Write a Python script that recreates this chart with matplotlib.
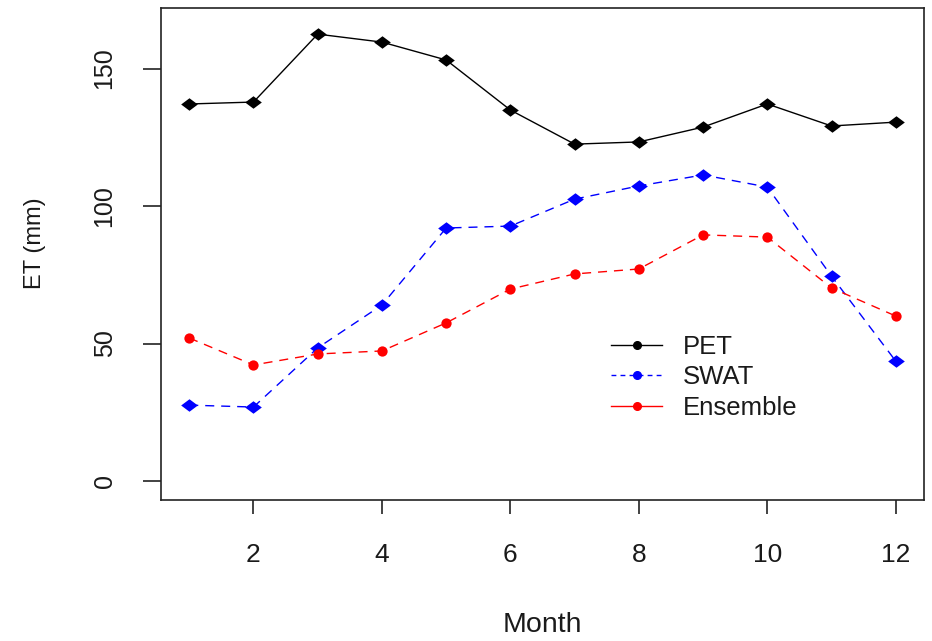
import matplotlib
matplotlib.use("Agg")
import matplotlib.pyplot as plt
from matplotlib.lines import Line2D

months = [1, 2, 3, 4, 5, 6, 7, 8, 9, 10, 11, 12]
pet = [137.1, 137.8, 162.5, 159.6, 153.1, 134.9, 122.5, 123.3, 128.7, 137.1, 129.1, 130.5]
swat = [27.6, 26.9, 48.4, 64.0, 92.0, 92.7, 102.5, 107.3, 111.3, 106.9, 74.5, 43.6]
ensemble = [52.0, 42.2, 46.2, 47.3, 57.5, 69.8, 75.3, 77.1, 89.5, 88.7, 70.2, 60.0]
series_names = ["PET", "SWAT", "Ensemble"]
xticks = [2, 4, 6, 8, 10, 12]
yticks = [0, 50, 100, 150]

plt.rcParams["font.family"] = ["Liberation Sans", "DejaVu Sans"]
txt = "#1a1a1a"

fig = plt.figure(figsize=(9.32, 6.41), dpi=100)
ax = fig.add_axes([161 / 932, 1 - 500 / 641, (924 - 161) / 932, (500 - 8) / 641])
ax.set_xlim(0.56, 12.44)
ax.set_ylim(-6.9, 172)

lw = 1.0
dash = (0, (6.5, 5))
diamond = [(-1, 0), (0, 0.75), (1, 0), (0, -0.75), (-1, 0)]

ax.plot(months, pet, color="black", lw=lw, marker=diamond, ms=12, mew=0, zorder=2)
ax.plot(months, swat, color="blue", lw=lw, ls=dash, marker=diamond, ms=12, mew=0, zorder=2)
ax.plot(months, ensemble, color="red", lw=lw, ls=dash, marker="o", ms=7.4, mew=0, zorder=2)

ax.set_xticks(xticks)
ax.set_yticks(yticks)
ax.set_xticklabels([str(t) for t in xticks])
ax.set_yticklabels([str(t) for t in yticks], rotation=90, va="center")

for s in ax.spines.values():
    s.set_linewidth(1.2)
    s.set_color("#222222")

ax.tick_params(axis="x", length=10, width=1.2, pad=21, labelsize=19, colors="#222222", labelcolor=txt)
ax.tick_params(axis="y", length=13, width=1.2, pad=19, labelsize=18, colors="#222222", labelcolor=txt)

ax.set_xlabel("Month", fontsize=20.5, color=txt)
ax.xaxis.set_label_coords(0.5, (500 - 625) / 492)
ax.xaxis.label.set_va("center")
ax.set_ylabel("ET (mm)", fontsize=17, color=txt)
ax.yaxis.set_label_coords((35 - 161) / 763, (500 - 243) / 492)
ax.yaxis.label.set_va("center")
ax.yaxis.label.set_ha("center")

handles = [
    Line2D([], [], color="black", lw=lw, marker="o", ms=5.5),
    Line2D([], [], color="blue", lw=lw, ls=(0, (3.5, 3)), marker="o", ms=5.5),
    Line2D([], [], color="red", lw=lw, marker="o", ms=5.5),
]
leg = ax.legend(handles, series_names, loc="upper left",
                bbox_to_anchor=((611 - 161) / 763, (500 - 335) / 492),
                frameon=False, fontsize=18.5, handlelength=2.0, handletextpad=0.8,
                labelspacing=0.25, borderaxespad=0, borderpad=0)
for t in leg.get_texts():
    t.set_color(txt)

fig.savefig("out.png", dpi=100)
